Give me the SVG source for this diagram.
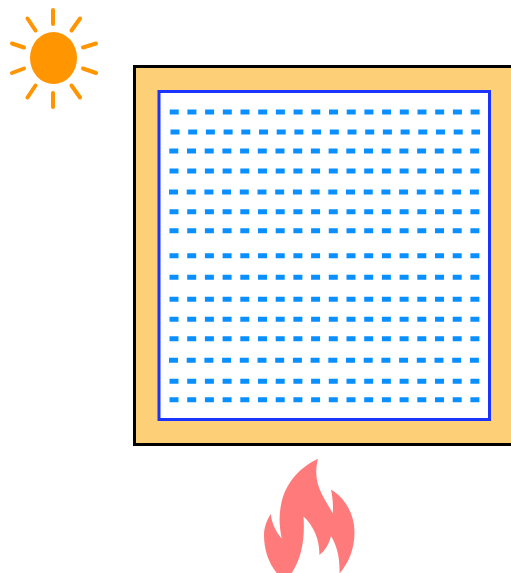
<svg xmlns="http://www.w3.org/2000/svg" width="511" height="573" viewBox="0 0 511 573">
<style>
.ray{stroke:#ff9500;stroke-width:4;stroke-linecap:round;fill:none}
.dash{stroke:#0a8fff;stroke-width:5;stroke-dasharray:9 8.7;fill:none}
</style>
<rect width="511" height="573" fill="#ffffff"/>
<g id="sun">
<ellipse cx="53.5" cy="58" rx="23.5" ry="26" fill="#ff9500"/>
<path class="ray" d="M53 10V24M53 93V107M27.5 18.5L35.5 30.5M80 18.5L71.5 30.5M27.5 97.5L35.5 85.5M80 97.5L71.5 85.5M12 43.5L24 47.5M96 43.5L83 47.5M12 73L24 68.5M96 73L83 68.5"/>
</g>
<g id="tank">
<rect x="134.5" y="66.5" width="390" height="378" fill="#fdd078" stroke="#000000" stroke-width="3"/>
<rect x="159" y="91.5" width="330.5" height="328" fill="#ffffff" stroke="#1a33ff" stroke-width="3"/>
</g>
<g id="dashes">
<path class="dash" d="M169.7 112H480M170.5 132H480M169.3 151H480M169.5 171H480M169 192H480M169.5 211.7H480M169.5 230.7H480M169.5 255.7H480M169.5 277.3H480M169.5 299.3H480M169.5 319.3H480M169.5 338.7H480M169 360.3H480M169.5 381.3H480M169.5 399.7H480"/>
</g>
<g id="flame">
<path fill="#ff7a7a" d="M318 458.7C315 470 316 481 320 490C323 498 329 506 332.7 513.5C333.5 505 332.5 497 331 489.5C345 498 354.5 514 354.5 532C354.5 549 349 562 340 573H339.5C340 558 337 546 331 536C329 544 325 551 319.3 555C320 541 314 526 303.5 516.5C305 538 302 558 291.7 573H276.7C268 562 264 549 264 535C264 527 267 520 270.7 514C272 524 276 532 281.7 538.5C279 525 279 515 281 505C285 483 300 467 318 458.7Z"/>
</g>
</svg>
